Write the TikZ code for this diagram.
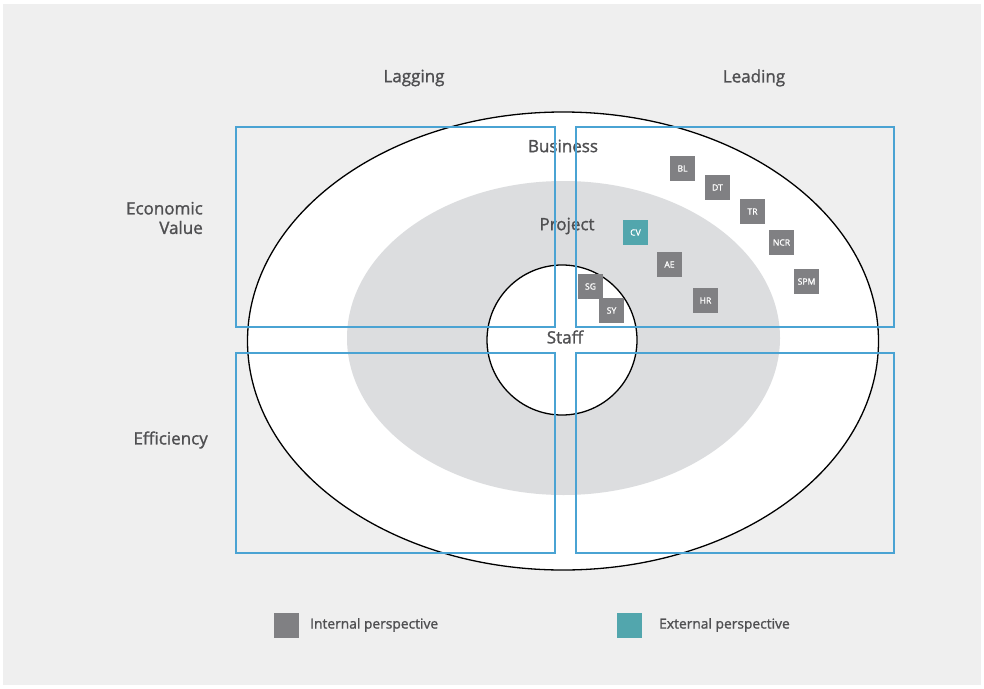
\documentclass[tikz,border=0pt]{standalone}
\usepackage{fontspec}
\setmainfont{Open Sans}
\newfontfamily\midfont{Open Sans}[FakeBold=1.3]
\definecolor{pagegray}{HTML}{EFEFEF}
\definecolor{midgray}{HTML}{DCDDDF}
\definecolor{quadblue}{HTML}{4AA3D3}
\definecolor{intgray}{HTML}{808083}
\definecolor{extteal}{HTML}{52A6AD}
\definecolor{labgray}{HTML}{4F4F51}

\begin{document}
\begin{tikzpicture}[x=1pt, y=-1pt,
	axislab/.style={text=labgray, font=\midfont\fontsize{17}{19.5}\selectfont, inner sep=0pt},
	ringlab/.style={text=labgray, font=\midfont\fontsize{17}{19.5}\selectfont, inner sep=0pt},
	quad/.style={draw=quadblue, line width=1.2pt},
	intsq/.style={fill=intgray, text=white, minimum size=25pt, inner sep=0pt, font=\midfont\fontsize{8.6}{9}\selectfont},
	extsq/.style={intsq, fill=extteal},
	legtext/.style={text=labgray, font=\midfont\fontsize{13.8}{16}\selectfont, anchor=west, inner sep=0pt}]
\useasboundingbox (0,0) rectangle (984,688);
\fill [white] (0,0) rectangle (984,688);
\fill [pagegray] (3,4) rectangle (981,685);
% rings
\draw [fill=white, line width=1.3pt] (563,341) ellipse [x radius=315.5, y radius=229];
\fill [midgray] (563.5,338) ellipse [x radius=216.5, y radius=157];
\draw [fill=white, line width=1.3pt] (562,340) circle [radius=75];
% headings
\node [axislab] (lagging) at (414,78) {Lagging};
\node [axislab] (leading) at (754,78) {Leading};
\node [axislab, anchor=east, align=right] (econ) at (203,218) {Economic\\Value};
\node [axislab, anchor=east] (effic) at (208,440) {Efficiency};
\node [ringlab] (business) at (563,146) {Business};
\node [ringlab] (project) at (567,226) {Project};
\node [ringlab] (staff) at (565,337) {Staff};
% quadrants
\draw [quad] (236,127) rectangle (555,327);
\draw [quad] (576,127) rectangle (894,327);
\draw [quad] (236,353) rectangle (555,553);
\draw [quad] (576,353) rectangle (894,553);
% metrics
\foreach \m/\x/\y in {BL/682.5/168.5, DT/717.5/187.5, TR/752.5/211.5, NCR/781.5/242.5, SPM/806.5/281.5, AE/669.5/264.5, HR/705.5/300.5, SG/590.5/286.5, SY/611.5/310.5}
	\node [intsq] (\m) at (\x,\y) {\m};
\node [extsq] (CV) at (635.5,232.5) {CV};
% legend
\node [intsq] (intkey) at (286.5,625.5) {};
\node [legtext] (inttext) at (310,625) {Internal perspective};
\node [extsq] (extkey) at (629.5,625.5) {};
\node [legtext] (exttext) at (659,625) {External perspective};
\end{tikzpicture}
\end{document}
